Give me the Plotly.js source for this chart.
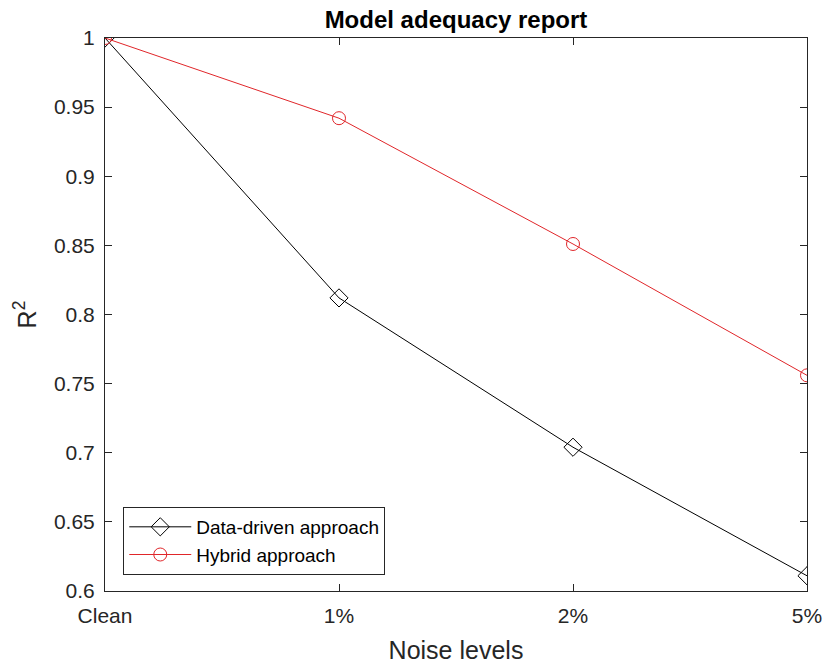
<!DOCTYPE html>
<html>
<head>
<meta charset="utf-8">
<script src="https://cdn.plot.ly/plotly-3.0.1.min.js"></script>
<style>html,body{margin:0;padding:0;background:#fff;}#chart{width:826px;height:664px;}</style>
</head>
<body>
<div id="chart"></div>
<script>
const categories = ["Clean", "1%", "2%", "5%"];
const dataDriven = [1.0, 0.812, 0.704, 0.611];
const hybrid = [1.0, 0.942, 0.851, 0.756];
const yTicks = [0.6, 0.65, 0.7, 0.75, 0.8, 0.85, 0.9, 0.95, 1];
const yTickText = ["0.6", "0.65", "0.7", "0.75", "0.8", "0.85", "0.9", "0.95", "1"];

const font = "Liberation Sans, Arial, sans-serif";
const traces = [
  {
    x: categories, y: dataDriven, name: "Data-driven approach",
    type: "scatter", mode: "lines+markers",
    line: {color: "#000000", width: 1},
    marker: {symbol: "diamond-open", size: 14, color: "#000000", line: {width: 1}}
  },
  {
    x: categories, y: hybrid, name: "Hybrid approach",
    type: "scatter", mode: "lines+markers",
    line: {color: "#e0262a", width: 1},
    marker: {symbol: "circle-open", size: 13, color: "#e0262a", line: {width: 1}}
  }
];
const axisCommon = {
  showline: true, linecolor: "#262626", linewidth: 1, mirror: "allticks",
  ticks: "inside", ticklen: 7, tickcolor: "#262626", showgrid: false, zeroline: false,
  tickfont: {family: font, size: 21, color: "#262626"}
};
const layout = {
  width: 826, height: 664,
  margin: {l: 105, r: 19, t: 38, b: 73},
  paper_bgcolor: "#ffffff", plot_bgcolor: "#ffffff",
  title: {text: "<b>Model adequacy report</b>", font: {family: font, size: 24, color: "#000000"}, x: 0.5, xanchor: "center", xref: "paper", y: 0.97, yanchor: "middle", yref: "container"},
  xaxis: Object.assign({}, axisCommon, {
    type: "category", categoryorder: "array", categoryarray: categories,
    range: [0, 3], ticklabelstandoff: 6,
    title: {text: "Noise levels", font: {family: font, size: 25, color: "#262626"}, standoff: 15}
  }),
  yaxis: Object.assign({}, axisCommon, {
    range: [0.6, 1], tickvals: yTicks, ticktext: yTickText, ticklabelstandoff: 5,
    title: {text: "R<sup>2</sup>", font: {family: font, size: 25, color: "#262626"}, standoff: 10}
  }),
  legend: {
    x: 0.026, y: 0.029, xanchor: "left", yanchor: "bottom",
    bgcolor: "#ffffff", bordercolor: "#262626", borderwidth: 1,
    font: {family: font, size: 19, color: "#000000"},
    itemwidth: 62, tracegroupgap: 0
  },
  showlegend: true
};
Plotly.newPlot("chart", traces, layout, {displayModeBar: false, staticPlot: true});
</script>
</body>
</html>
